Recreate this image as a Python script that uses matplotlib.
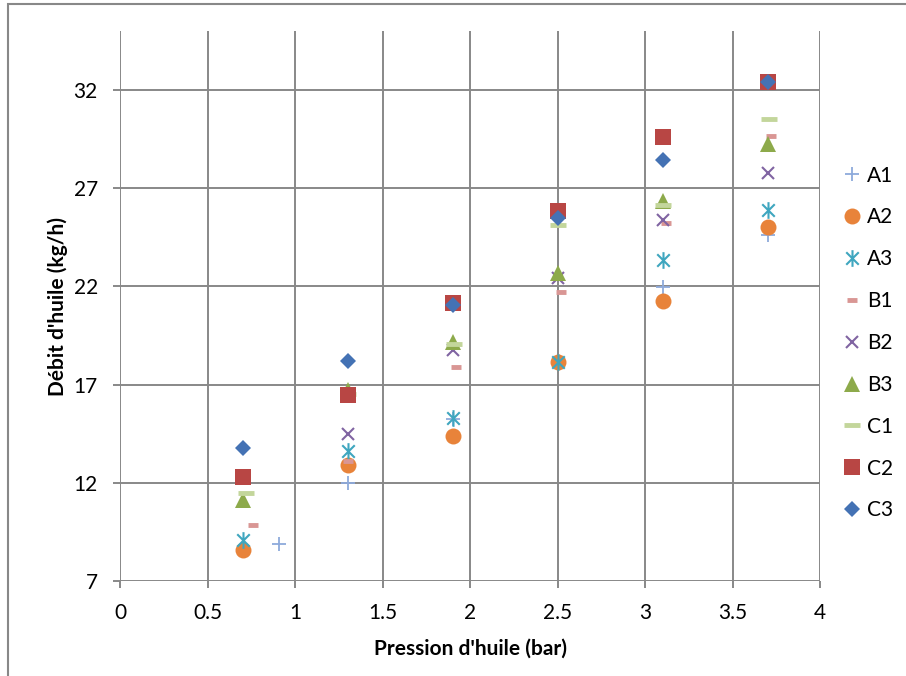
import matplotlib
matplotlib.use("Agg")
import matplotlib.pyplot as plt
from matplotlib.path import Path
from matplotlib.patches import Rectangle

plt.rcParams['font.family'] = ['Lato', 'DejaVu Sans']

# data
x_A1 = [0.91, 1.3, 1.9, 2.5, 3.1, 3.7]
y_A1 = [8.9, 11.98, 15.25, 18.1, 21.98, 24.6]
x_A2 = [0.7, 1.3, 1.9, 2.5, 3.1, 3.7]
y_A2 = [8.56, 12.9, 14.37, 18.13, 21.24, 25.0]
x_A3 = [0.7, 1.3, 1.9, 2.5, 3.1, 3.7]
y_A3 = [9.07, 13.64, 15.31, 18.15, 23.34, 25.9]
x_B1 = [0.76, 1.3, 1.92, 2.52, 3.12, 3.72]
y_B1 = [9.83, 13.09, 17.91, 21.73, 25.25, 29.66]
x_B2 = [0.7, 1.3, 1.9, 2.5, 3.1, 3.7]
y_B2 = [12.3, 14.49, 18.76, 22.45, 25.37, 27.76]
x_B3 = [0.7, 1.3, 1.9, 2.5, 3.1, 3.7]
y_B3 = [11.1, 16.7, 19.15, 22.66, 26.35, 29.24]
x_C1 = [0.72, 1.3, 1.91, 2.5, 3.1, 3.71]
y_C1 = [11.49, 16.5, 19.07, 25.13, 26.15, 30.51]
x_C2 = [0.7, 1.3, 1.9, 2.5, 3.1, 3.7]
y_C2 = [12.29, 16.48, 21.15, 25.85, 29.61, 32.42]
x_C3 = [0.7, 1.3, 1.9, 2.5, 3.1, 3.7]
y_C3 = [13.78, 18.22, 21.05, 25.5, 28.44, 32.42]

xticks = [0, 0.5, 1, 1.5, 2, 2.5, 3, 3.5, 4]
xticklabels = ['0', '0.5', '1', '1.5', '2', '2.5', '3', '3.5', '4']
yticks = [7, 12, 17, 22, 27, 32]

# excel-like star: vertical stroke + X
star = Path([(0, -1), (0, 1), (-0.75, -0.75), (0.75, 0.75), (-0.75, 0.75), (0.75, -0.75)],
            [Path.MOVETO, Path.LINETO, Path.MOVETO, Path.LINETO, Path.MOVETO, Path.LINETO])

fig = plt.figure(figsize=(9.06, 6.76), dpi=100)
ax = fig.add_axes([120/906, 95/676, 700/906, 550/676])

ax.plot(x_A1, y_A1, ls='none', marker='+', ms=10, mew=1.3, color='#8EAADB', label='A1')
ax.plot(x_A2, y_A2, ls='none', marker='o', ms=11.5, mew=0, color='#E8833A', label='A2')
ax.plot(x_A3, y_A3, ls='none', marker=star, ms=12, mew=1.5, color='#3FA6BF', label='A3')
ax.plot(x_B1, y_B1, ls='none', marker='_', ms=7, mew=3.5, color='#D99694', label='B1')
ax.plot(x_B2, y_B2, ls='none', marker='x', ms=9, mew=1.5, color='#8064A2', label='B2')
ax.plot(x_B3, y_B3, ls='none', marker='^', ms=11.5, mew=0, color='#8DAA4B', label='B3')
ax.plot(x_C1, y_C1, ls='none', marker='_', ms=11.5, mew=3.5, color='#C3D69B', label='C1')
ax.plot(x_C2, y_C2, ls='none', marker='s', ms=11.5, mew=0, color='#B84644', label='C2')
ax.plot(x_C3, y_C3, ls='none', marker='D', ms=8, mew=0, color='#4472B4', label='C3')

ax.set_xlim(0, 4)
ax.set_ylim(7, 35)
ax.set_xticks(xticks)
ax.set_xticklabels(xticklabels)
ax.set_yticks(yticks)
for s in ax.spines.values():
    s.set_visible(False)
ax.grid(True, color='#888888', lw=1.4)
ax.set_axisbelow(True)
ax.tick_params(direction='out', length=5, width=1.4, color='#888888', labelsize=15, pad=11)
ax.tick_params(axis='y', pad=11)

ax.set_xlabel("Pression d'huile (bar)", fontsize=15, fontweight='bold', labelpad=11)
ax.set_ylabel("Débit d'huile (kg/h)", fontsize=15, fontweight='bold', labelpad=4)

ax.legend(loc='center left', bbox_to_anchor=(834/906, 1 - 343/676), bbox_transform=fig.transFigure,
          frameon=False, fontsize=15, handlelength=0.9, handletextpad=0.3, labelspacing=1.05,
          borderaxespad=0)

fig.patches.append(Rectangle((8/906, -0.1), 1.2, 1 - 4/676 + 0.1, transform=fig.transFigure,
                             fill=False, edgecolor='#888888', lw=1.5))

fig.savefig('out.png', dpi=100)
